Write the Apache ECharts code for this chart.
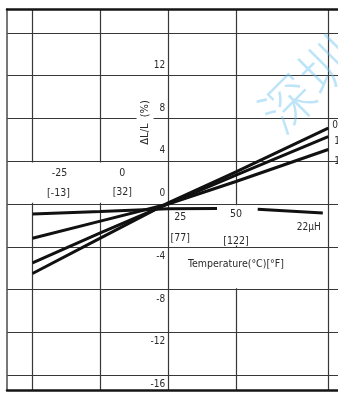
<!DOCTYPE html>
<html>
<head>
<meta charset="utf-8">
<script src="https://cdn.jsdelivr.net/npm/echarts@6/dist/echarts.min.js"></script>
<style>
  html, body { margin: 0; padding: 0; background: #fff; }
  #c { width: 338px; height: 396px; }
</style>
</head>
<body>
<div id="c"></div>
<script>
// Temperature axis (°C): gridline positions and the two-line tick labels
const xGrid = [-25, 0, 25, 50, 84];
const xTicks = [-25, 0, 25, 50];
const xLabelsC = ['-25', '0', '25', '50'];
const xLabelsF = ['[-13]', '[32]', '[77]', '[122]'];

// ΔL/L axis (%): gridlines and labelled values
const yGrid = [-16, -12, -8, -4, 0, 4, 8, 12, 16];
const yLabelVals = [-16, -12, -8, -4, 0, 4, 8, 12];

// Inductance change vs. temperature
const tempC = [-25, 0, 25, 50, 84];
const curveA = [-6.5, -3.2, 0.1, 3.0, 7.1];
const curveB = [-5.5, -2.7, 0.0, 2.7, 6.3];
const curveC = [-3.2, -1.6, 0.0, 2.1, 5.1];
const curveTags = ['0', '1', '1'];

const temp22 = [-25, 0, 25, 43, 50, 58, 82];
const curve22 = [-0.94, -0.7, -0.45, -0.42, '-', -0.5, -0.85];
const tag22 = '22μH';

const xTitle = 'Temperature(°C)[°F]';
const yTitle = 'ΔL/L  (%)';
const watermark = '深圳';

// ---- layout & style ----
const FONT = '"Liberation Sans Narrow", "DejaVu Sans Condensed", "Liberation Sans", sans-serif';
const TEXT = '#2a2a2a';
const GRID = '#383838';
const X_MIN = -34.4, X_MAX = 87.6, Y_MIN = -17.4, Y_MAX = 18.24;
const GRID_BOX = { left: 7, right: 0, top: 9, bottom: 6 };
const W = 338;

const pairs = (xs, ys) => xs.map((x, i) => [x, ys[i]]);
const curveLine = { color: '#111', width: 3 };
const tagStyle = { show: true, color: TEXT, fontSize: 10, fontFamily: FONT, distance: 4 };

// the ΔL/L axis sits on the 25 °C line
const plotW = W - GRID_BOX.left - GRID_BOX.right;
const axisShift = (25 - X_MIN) / (X_MAX - X_MIN) * plotW;

const chart = echarts.init(document.getElementById('c'), null, { renderer: 'canvas' });

const option = {
  animation: false,
  backgroundColor: '#fff',
  grid: Object.assign({ outerBoundsMode: 'none', containLabel: false }, GRID_BOX),
  xAxis: [
    {
      type: 'value', min: X_MIN, max: X_MAX, position: 'bottom',
      axisLine: { show: true, onZero: false, lineStyle: { color: '#151515', width: 2.5 } },
      axisTick: { show: false, customValues: xGrid },
      axisLabel: { show: false },
      splitLine: { show: true, lineStyle: { color: GRID, width: 1.2 } }
    },
    {
      type: 'value', min: X_MIN, max: X_MAX, position: 'top',
      axisLine: { show: true, onZero: false, lineStyle: { color: '#151515', width: 2.5 } },
      axisTick: { show: false }, axisLabel: { show: false }, splitLine: { show: false }
    }
  ],
  yAxis: [
    {
      type: 'value', min: Y_MIN, max: Y_MAX, position: 'left',
      axisLine: { show: true, onZero: false, lineStyle: { color: '#555', width: 1.6 } },
      axisTick: { show: false, customValues: yGrid },
      axisLabel: { show: false },
      splitLine: { show: true, lineStyle: { color: GRID, width: 1.2 } }
    },
    {
      type: 'value', min: Y_MIN, max: Y_MAX, position: 'left', offset: -axisShift,
      axisLine: { show: false, onZero: false },
      axisTick: { show: false, customValues: yLabelVals },
      splitLine: { show: false },
      axisLabel: {
        customValues: yLabelVals, margin: 3, color: TEXT, fontSize: 10, fontFamily: FONT,
        formatter: v => (v >= 0 ? '{u|' + v + '}' : '{d|' + v + '}'),
        rich: {
          u: { padding: [0, 0, 21, 0], fontSize: 10, fontFamily: FONT, color: TEXT },
          d: { padding: [19, 0, 0, 0], fontSize: 10, fontFamily: FONT, color: TEXT }
        }
      }
    }
  ],
  series: [
    { type: 'line', name: 'A', data: pairs(tempC, curveA), symbol: 'none', lineStyle: curveLine, z: 3,
      endLabel: Object.assign({ formatter: curveTags[0], offset: [0, -3] }, tagStyle) },
    { type: 'line', name: 'B', data: pairs(tempC, curveB), symbol: 'none', lineStyle: curveLine, z: 3,
      endLabel: Object.assign({ formatter: curveTags[1], offset: [2, 5] }, tagStyle) },
    { type: 'line', name: 'C', data: pairs(tempC, curveC), symbol: 'none', lineStyle: curveLine, z: 3,
      endLabel: Object.assign({ formatter: curveTags[2], offset: [2, 12] }, tagStyle) },
    { type: 'line', name: tag22, data: pairs(temp22, curve22), symbol: 'none', connectNulls: false,
      lineStyle: curveLine, z: 3,
      // white boxes behind the tick labels, hiding the gridlines there
      markArea: {
        silent: true,
        itemStyle: { color: '#fff' },
        label: { show: false },
        data: [
          [{ coord: [-33.3, 0.12] }, { coord: [16, 3.88] }],
          [{ coord: [44, -0.12] }, { coord: [56, -3.88] }],
          [{ coord: [44, -4.12] }, { coord: [56, -7.88] }]
        ]
      }
    }
  ]
};

chart.setOption(option);

const px = (x, y) => chart.convertToPixel({ xAxisIndex: 0, yAxisIndex: 0 }, [x, y]);

// pixel nudges of the °C / °F labels from each tick on the zero line
const labelNudge = [
  { c: [27, -31], f: [26, -11] },
  { c: [22, -31], f: [22, -12] },
  { c: [12, 13], f: [12, 34] },
  { c: [0, 10], f: [0, 37] }
];

const textStyle = (text, x, y, extra) => Object.assign({
  text, x, y, fill: TEXT, font: '10.5px ' + FONT, align: 'center', verticalAlign: 'middle'
}, extra || {});

const graphics = [];
xTicks.forEach((t, i) => {
  const p = px(t, 0);
  const n = labelNudge[i];
  graphics.push({ type: 'text', z: 50, style: textStyle(xLabelsC[i], p[0] + n.c[0], p[1] + n.c[1]) });
  graphics.push({ type: 'text', z: 50, style: textStyle(xLabelsF[i], p[0] + n.f[0], p[1] + n.f[1]) });
});

const last22 = px(temp22[temp22.length - 1], curve22[curve22.length - 1]);
graphics.push({ type: 'text', z: 50, style: textStyle(tag22, last22[0] - 14, last22[1] + 14, { font: '10px ' + FONT }) });

const tTitle = px(50, 0);
graphics.push({ type: 'text', z: 50, style: textStyle(xTitle, tTitle[0], tTitle[1] + 60) });

const yT = px(16.5, 7.4);
graphics.push({
  type: 'text', z: 50, x: yT[0], y: yT[1], rotation: Math.PI / 2,
  style: textStyle(yTitle, 0, 0, { backgroundColor: '#fff', padding: [3, 5, 3, 10], font: '11px ' + FONT })
});

graphics.push({
  type: 'text', z: 1, x: 307, y: 84, rotation: Math.PI / 4,
  style: { text: watermark, x: 0, y: 0, fill: 'rgba(110,195,240,0.45)', font: '300 54px "Noto Sans CJK SC", sans-serif',
           align: 'center', verticalAlign: 'middle' }
});

chart.setOption({ graphic: graphics });
</script>
</body>
</html>
